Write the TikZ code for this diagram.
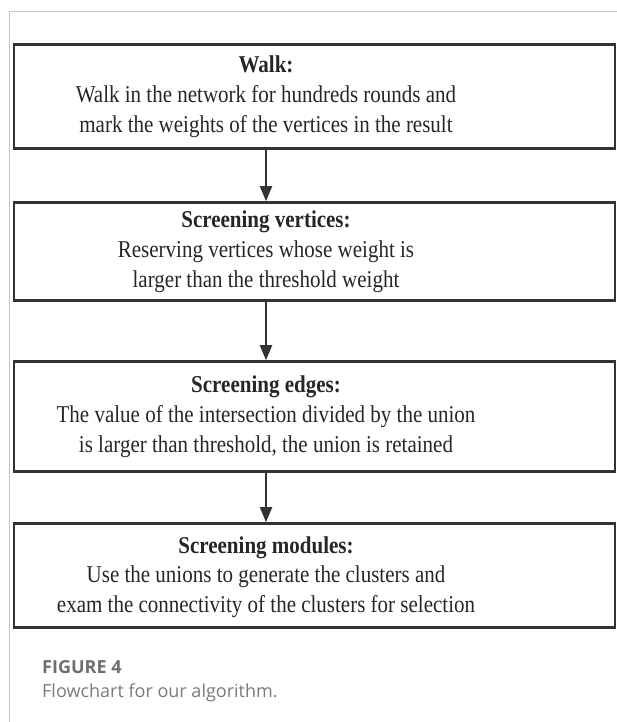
\documentclass[tikz,border=0pt]{standalone}
\usepackage{graphicx}
\usepackage{fontspec}
\setmainfont{Liberation Serif}
\newfontfamily\capfont{Open Sans}
\usetikzlibrary{arrows.meta}
\definecolor{framegray}{HTML}{C6C6C6}
\definecolor{boxline}{HTML}{333333}
\definecolor{capgray}{HTML}{6E6E6E}
\definecolor{captext}{HTML}{7A7A7A}
% step text: centred lines, set slightly tall
\newcommand\stepblock[1]{\scalebox{1}[1.15]{\begin{tabular}{@{}c@{}}#1\end{tabular}}}
\begin{document}
\begin{tikzpicture}[x=1pt,y=1pt,
  stepbox/.style={draw=boxline, line width=2.6pt, rectangle, inner sep=0pt, minimum width=601pt},
  steptext/.style={font=\fontsize{21}{26}\selectfont, text=black!85, inner sep=0pt},
  flow/.style={draw=boxline, line width=2pt, -{Triangle[width=12pt,length=15pt]}},
  captitle/.style={anchor=base west, inner sep=0pt, text=capgray, font=\capfont\bfseries\fontsize{18}{21}\selectfont},
  capbody/.style={anchor=base west, inner sep=0pt, text=captext, font=\capfont\fontsize{18}{21}\selectfont}
]
\useasboundingbox (0,0) rectangle (617,-722);

% page frame
\draw[framegray, line width=1pt] (9,-722) -- (9,-12) -- (617,-12);

% step boxes
\node[stepbox, minimum height=104pt] (b1) at (314.5,-96.5) {};
\node[stepbox, minimum height=98pt]  (b2) at (314.5,-251.5) {};
\node[stepbox, minimum height=110pt] (b3) at (314.5,-416.5) {};
\node[stepbox, minimum height=104pt] (b4) at (314.5,-575.5) {};

% step texts
\node[steptext] (t1) at (266,-96.5) {\stepblock{\textbf{Walk:}\\Walk in the network for hundreds rounds and\\mark the weights of the vertices in the result}};
\node[steptext] (t2) at (266,-251.5) {\stepblock{\textbf{Screening vertices:}\\Reserving vertices whose weight is\\larger than the threshold weight}};
\node[steptext] (t3) at (266,-416.5) {\stepblock{\textbf{Screening edges:}\\The value of the intersection divided by the union\\is larger than threshold, the union is retained}};
\node[steptext] (t4) at (266,-577) {\stepblock{\textbf{Screening modules:}\\Use the unions to generate the clusters and\\exam the connectivity of the clusters for selection}};

% connectors
\draw[flow] (b1.south -| t1) -- (b2.north -| t1);
\draw[flow] (b2.south -| t2) -- (b3.north -| t2);
\draw[flow] (b3.south -| t3) -- (b4.north -| t3);

% caption
\node[captitle] (cap1) at (42,-673) {FIGURE 4};
\node[capbody] (cap2) at (42,-697) {Flowchart for our algorithm.};
\end{tikzpicture}
\end{document}
